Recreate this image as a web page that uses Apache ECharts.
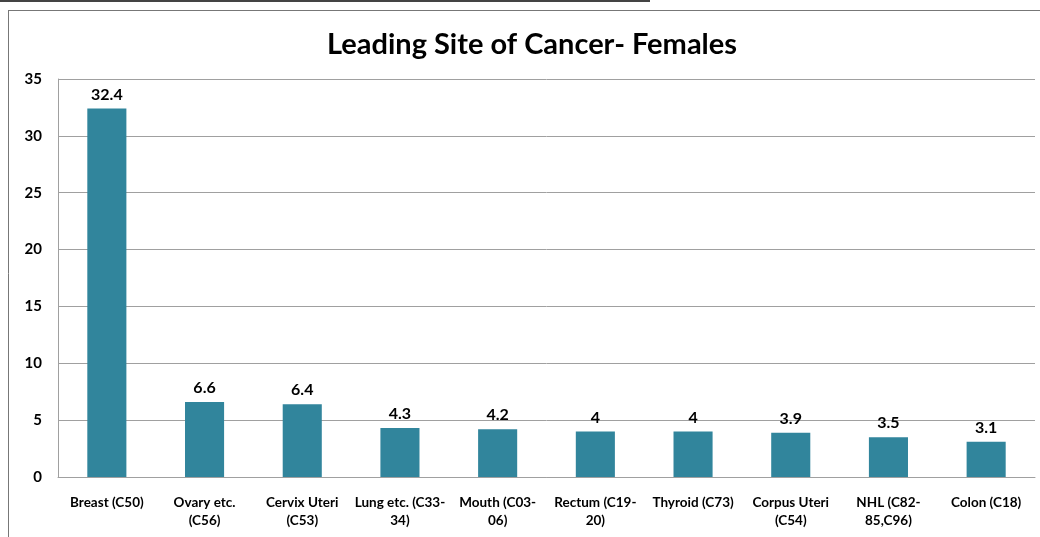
<!DOCTYPE html>
<html>
<head>
<meta charset="utf-8">
<script src="https://cdn.jsdelivr.net/npm/echarts@6/dist/echarts.min.js"></script>
<style>
  html, body { margin: 0; padding: 0; background: #fff; }
  #chart { width: 1040px; height: 537px; }
</style>
</head>
<body>
<div id="chart"></div>
<script>
var categories = [
  "Breast (C50)",
  "Ovary etc.\n(C56)",
  "Cervix Uteri\n(C53)",
  "Lung etc. (C33-\n34)",
  "Mouth (C03-\n06)",
  "Rectum (C19-\n20)",
  "Thyroid (C73)",
  "Corpus Uteri\n(C54)",
  "NHL (C82-\n85,C96)",
  "Colon (C18)"
];
var values = [32.4, 6.6, 6.4, 4.3, 4.2, 4, 4, 3.9, 3.5, 3.1];
var yTicks = { min: 0, max: 35, step: 5 };

var font = "Lato, 'Open Sans', sans-serif";
var chart = echarts.init(document.getElementById("chart"));
chart.setOption({
  animation: false,
  title: {
    text: "Leading Site of Cancer- Females",
    left: 527,
    textAlign: "center",
    top: 25,
    textStyle: { fontFamily: font, fontSize: 29, fontWeight: "bold", color: "#000" }
  },
  graphic: [
    { type: "line", shape: { x1: 0, y1: 1, x2: 650, y2: 1 }, style: { stroke: "#444", lineWidth: 2 } },
    { type: "line", shape: { x1: 8, y1: 10.5, x2: 1040, y2: 10.5 }, style: { stroke: "#777", lineWidth: 1 } },
    { type: "line", shape: { x1: 8.5, y1: 10, x2: 8.5, y2: 537 }, style: { stroke: "#777", lineWidth: 1 } }
  ],
  grid: { left: 58, right: 5, top: 79, bottom: 60 },
  xAxis: {
    type: "category",
    data: categories,
    axisTick: { show: false },
    axisLine: { lineStyle: { color: "#a0a0a0" } },
    axisLabel: {
      interval: 0,
      margin: 17,
      lineHeight: 18,
      fontFamily: font,
      fontSize: 13.5,
      fontWeight: "bold",
      color: "#000"
    }
  },
  yAxis: {
    type: "value",
    min: yTicks.min,
    max: yTicks.max,
    interval: yTicks.step,
    axisLine: { show: true, lineStyle: { color: "#a0a0a0" } },
    axisTick: { show: false },
    splitLine: { lineStyle: { color: "#a0a0a0" } },
    axisLabel: {
      margin: 16,
      fontFamily: font,
      fontSize: 15,
      fontWeight: "bold",
      color: "#000"
    }
  },
  series: [
    {
      type: "bar",
      data: values,
      barWidth: "40%",
      itemStyle: { color: "#31859C" },
      label: {
        show: true,
        position: "top",
        distance: 6,
        fontFamily: font,
        fontSize: 16,
        fontWeight: "bold",
        color: "#000"
      }
    }
  ]
});
</script>
</body>
</html>
